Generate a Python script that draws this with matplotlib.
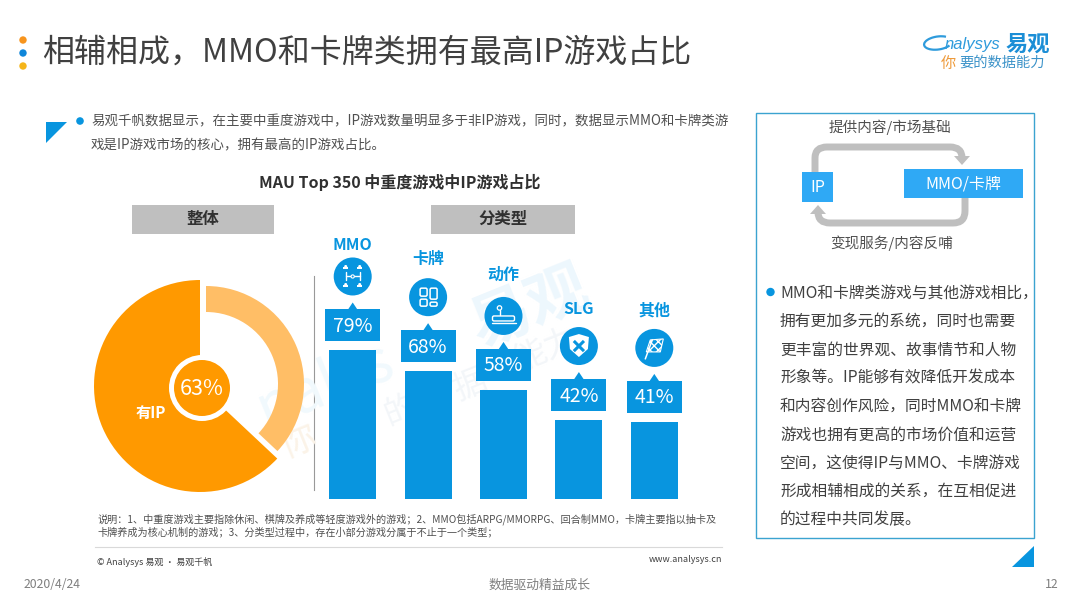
import numpy as np
from matplotlib import pyplot as plt
from matplotlib.patches import Rectangle, Circle, Polygon, PathPatch, FancyBboxPatch, Arc
from matplotlib.path import Path

plt.rcParams['font.family'] = ['Noto Sans CJK SC', 'DejaVu Sans']

# data
overall_values = [63, 37]
overall_label = '有IP'
categories = ['MMO', '卡牌', '动作', 'SLG', '其他']
shares = [79, 68, 58, 42, 41]

title = '相辅相成，MMO和卡牌类拥有最高IP游戏占比'
chart_title = 'MAU Top 350 中重度游戏中IP游戏占比'
intro_lines = ['易观千帆数据显示，在主要中重度游戏中，IP游戏数量明显多于非IP游戏，同时，数据显示MMO和卡牌类游',
               '戏是IP游戏市场的核心，拥有最高的IP游戏占比。']
panel_lines = ['MMO和卡牌类游戏与其他游戏相比，', '拥有更加多元的系统，同时也需要', '更丰富的世界观、故事情节和人物',
               '形象等。IP能够有效降低开发成本', '和内容创作风险，同时MMO和卡牌', '游戏也拥有更高的市场价值和运营',
               '空间，这使得IP与MMO、卡牌游戏', '形成相辅相成的关系，在互相促进', '的过程中共同发展。']
note_lines = ['说明：1、中重度游戏主要指除休闲、棋牌及养成等轻度游戏外的游戏；2、MMO包括ARPG/MMORPG、回合制MMO，卡牌主要指以抽卡及',
              '卡牌养成为核心机制的游戏；3、分类型过程中，存在小部分游戏分属于不止于一个类型；']

BLUE = '#0895DF'
ORANGE = '#FF9900'
LIGHT = '#FFBE66'
GRAY = '#BFBFBF'
DARK = '#404040'
W, H = 1080, 608

fig = plt.figure(figsize=(W / 100, H / 100), dpi=100, facecolor='white')


def px_axes(left, top, width, height, **kw):
    return fig.add_axes([left / W, 1 - (top + height) / H, width / W, height / H], **kw)


# overlay in pixel coordinates for the page furniture
page = px_axes(0, 0, W, H)
page.set_xlim(0, W)
page.set_ylim(H, 0)
page.axis('off')


def text(x, y, s, size=9, color=DARK, ha='left', **kw):
    return page.text(x, y, s, fontsize=size, color=color, ha=ha, va='center', **kw)


# watermark
page.text(530, 308, '易观', fontsize=44, color='#EDF7FD', rotation=22, ha='center', va='center', weight='bold')
page.text(325, 385, 'nalys', fontsize=42, color='#F1F9FD', rotation=22, ha='center', va='center', style='italic')
page.text(298, 442, '你', fontsize=26, color='#FBF3E8', rotation=22, ha='center', va='center')
page.text(400, 410, '的', fontsize=24, color='#F3F6F9', rotation=22, ha='center', va='center')
page.text(470, 385, '据', fontsize=24, color='#F3F6F9', rotation=22, ha='center', va='center')
page.text(545, 350, '能力', fontsize=24, color='#F3F6F9', rotation=22, ha='center', va='center')

# heading
for y, c in zip([40, 53, 66], ['#F7941D', '#0F86D9', '#F5B51A']):
    page.add_patch(Circle((23, y), 3.7, color=c, lw=0))
text(42, 53, title, size=23)

# logo
page.add_patch(Arc((938, 43), 28, 13, angle=-8, theta1=20, theta2=330, color='#2E9BDC', lw=1.6))
text(945, 45, 'nalysys', size=12, color='#2E9BDC', style='italic', family=['Liberation Sans'])
text(1006, 44, '易观', size=16, color='#1B8ED6', weight='bold')
text(941, 63, '你', size=11, color='#EE9A3A')
text(959, 63, '要的数据能力', size=10.3, color='#3C93C9')

# intro
page.add_patch(Polygon([(46, 122), (67, 122), (46, 143)], color=BLUE, lw=0))
page.add_patch(Circle((80, 121), 3.8, color=BLUE, lw=0))
for y, line_text in zip([121, 145], intro_lines):
    text(91, y, line_text, size=9.7, color='#505050')

text(400, 182, chart_title, size=11.5, ha='center', weight='bold', color='#303030')
for x0, x1, s in [(132, 274, '整体'), (431, 575, '分类型')]:
    page.add_patch(Rectangle((x0, 205), x1 - x0, 29, color=GRAY, lw=0))
    text((x0 + x1) / 2, 219, s, size=11.8, ha='center', weight='bold', color='#303030')

page.plot([313.5, 313.5], [276, 490], color='#999999', lw=0.8)

# donut
pie_ax = px_axes(90, 276, 220, 220)
pie_ax.pie([overall_values[0] / 100], normalize=False, radius=106, startangle=90, colors=[ORANGE],
           wedgeprops={'linewidth': 0})
pie_ax.pie([overall_values[1] / 100], normalize=False, radius=98, startangle=90 - 360 * overall_values[1] / 100,
           colors=[LIGHT], center=(6, 2), wedgeprops={'linewidth': 0, 'width': 26})
pie_ax.set_xlim(-110, 110)
pie_ax.set_ylim(-110, 110)
pie_ax.set_aspect('equal')
pie_ax.add_patch(Circle((2, -2), 33, color='white', lw=0, zorder=5))
pie_ax.add_patch(Circle((2, -2), 28, color=ORANGE, lw=0, zorder=6))
pie_ax.text(2, -3, '%d%%' % overall_values[0], fontsize=15.5, color='white', ha='center', va='center',
            weight='light', zorder=7)
pie_ax.text(-49, -27, overall_label, fontsize=11, color='white', weight='bold', ha='center', va='center')

# bars: 1.88 px per percentage point, baseline at y=499
bar_ax = px_axes(315, 232, 377, 267)
bar_ax.patch.set_alpha(0)
bar_ax.bar(range(len(shares)), shares, width=0.623, color=BLUE, linewidth=0)
bar_ax.set_xlim(-0.5, 4.5)
bar_ax.set_ylim(0, 267 / 1.88)
bar_ax.axis('off')

label_gap = [31, 38, 41, 37, 37]
top_layer = px_axes(0, 0, W, H)
top_layer.set_xlim(0, W)
top_layer.set_ylim(H, 0)
top_layer.axis('off')
top_layer.patch.set_alpha(0)


def line(xs, ys, lw=1.0):
    top_layer.plot(xs, ys, color='white', lw=lw, solid_capstyle='round', zorder=6)


def icon_mmo(cx, cy):
    line([cx - 7, cx + 7], [cy, cy])
    line([cx - 7, cx - 7], [cy - 4, cy + 4])
    line([cx + 7, cx + 7], [cy - 4, cy + 4])
    top_layer.add_patch(Circle((cx, cy), 1.6, fc=BLUE, ec='white', lw=0.8, zorder=7))
    for dx in (-7, 7):
        for dy in (-9, 9):
            top_layer.add_patch(Circle((cx + dx, cy + dy - 1), 1.5, color='white', lw=0, zorder=7))
            top_layer.add_patch(Rectangle((cx + dx - 2.5, cy + dy), 5, 1.8, color='white', lw=0, zorder=7))


def icon_card(cx, cy):
    for x, y, w, h in [(-8, -9, 7, 8), (2, -9, 7, 11), (-8, 2, 7, 7), (2, 5, 7, 4)]:
        top_layer.add_patch(FancyBboxPatch((cx + x, cy + y), w, h, boxstyle='round,pad=0,rounding_size=1.5',
                                           fc='none', ec='white', lw=1.1, zorder=6))


def icon_action(cx, cy):
    top_layer.add_patch(Circle((cx - 4, cy - 8), 2.2, fc='none', ec='white', lw=0.9, zorder=6))
    line([cx - 4, cx - 4], [cy - 6, cy - 1])
    top_layer.add_patch(FancyBboxPatch((cx - 11, cy), 22, 5, boxstyle='round,pad=0,rounding_size=1.5',
                                       fc='none', ec='white', lw=1.0, zorder=6))
    line([cx - 12, cx + 12], [cy + 7, cy + 7])


def icon_slg(cx, cy):
    top_layer.add_patch(Polygon([(cx - 10, cy - 9), (cx, cy - 12), (cx + 10, cy - 9), (cx + 9, cy + 3),
                                 (cx, cy + 11), (cx - 9, cy + 3)], color='white', lw=0, zorder=6))
    top_layer.plot([cx - 4, cx + 4], [cy - 4, cy + 4], color=BLUE, lw=2.2, zorder=7)
    top_layer.plot([cx - 4, cx + 4], [cy + 4, cy - 4], color=BLUE, lw=2.2, zorder=7)


def icon_flag(cx, cy):
    line([cx - 9, cx - 2], [cy + 11, cy - 8], lw=1.1)
    top_layer.add_patch(Polygon([(cx - 4, cy - 8), (cx + 9, cy - 9), (cx + 6, cy + 4), (cx - 8, cy + 4)],
                                fc='none', ec='white', lw=0.8, zorder=6, hatch='xxxx'))


icons = [icon_mmo, icon_card, icon_action, icon_slg, icon_flag]
fig.canvas.draw()
for i, (name, v) in enumerate(zip(categories, shares)):
    # take the bar top from the bar axes, callouts hang off it
    bx, by = bar_ax.transData.transform((i, v))
    x, y = bx, H - by
    box_top = y - 41
    top_layer.add_patch(Rectangle((x - 27.5, box_top), 55, 32, color=BLUE, lw=0))
    top_layer.add_patch(Polygon([(x - 5, box_top + 0.5), (x + 5, box_top + 0.5), (x, box_top - 7)], color=BLUE, lw=0))
    top_layer.text(x, box_top + 17, '%d%%' % v, fontsize=14, color='white', ha='center', va='center', weight='light')
    cy = box_top - 33
    top_layer.add_patch(Circle((x, cy), 19, color=BLUE, lw=0))
    icons[i](x, cy)
    top_layer.text(x, cy - label_gap[i], name, fontsize=11.5, color=BLUE, ha='center', va='center', weight='bold')

# side panel
page.add_patch(Rectangle((756, 113), 278, 425, fc='none', ec='#3BA3D0', lw=1))
page.add_patch(Polygon([(1012, 567), (1034, 567), (1034, 546)], color=BLUE, lw=0))
text(890, 127, '提供内容/市场基础', size=10.5, ha='center', color='#505050')
text(892, 243, '变现服务/内容反哺', size=10.5, ha='center', color='#505050')

upper = Path([(815, 175), (815, 158), (815, 147), (827, 147), (950, 147), (962, 147), (962, 158)],
             [Path.MOVETO, Path.LINETO, Path.CURVE3, Path.CURVE3, Path.LINETO, Path.CURVE3, Path.CURVE3])
lower = Path([(965, 195), (965, 211), (965, 223), (953, 223), (830, 223), (818, 223), (818, 212)],
             [Path.MOVETO, Path.LINETO, Path.CURVE3, Path.CURVE3, Path.LINETO, Path.CURVE3, Path.CURVE3])
for p in (upper, lower):
    page.add_patch(PathPatch(p, fc='none', ec=GRAY, lw=5))
page.add_patch(Polygon([(954, 156), (970, 156), (962, 165)], color=GRAY, lw=0))
page.add_patch(Polygon([(810, 214), (826, 214), (818, 205)], color=GRAY, lw=0))
page.add_patch(Rectangle((802, 172), 31, 30, color='#2FA9F5', lw=0, zorder=4))
page.add_patch(Rectangle((904, 169), 119, 29, color='#2FA9F5', lw=0, zorder=4))
page.text(817.5, 187, 'IP', fontsize=11.5, color='white', ha='center', va='center', zorder=5)
page.text(963, 184, 'MMO/卡牌', fontsize=11.5, color='white', ha='center', va='center', zorder=5)

page.add_patch(Circle((770.5, 292), 4.2, color=BLUE, lw=0))
for y, s in zip([293, 322, 350, 378, 406, 435, 463, 491, 520], panel_lines):
    text(780, y, s, size=11.3, color='#404040')

# footnotes
for y, s in zip([519, 532], note_lines):
    text(97, y, s, size=7.3, color='#505050')
page.plot([95, 722], [547, 547], color='#D9D9D9', lw=0.8)
text(97, 562, '© Analysys 易观 · 易观千帆', size=6.5, color='#404040')
text(722, 560, 'www.analysys.cn', size=6.5, ha='right', color='#404040')
text(24, 585, '2020/4/24', size=8.8, color='#7F7F7F')
text(540, 585, '数据驱动精益成长', size=9.2, ha='center', color='#7F7F7F')
text(1059, 585, '12', size=8.8, ha='right', color='#7F7F7F')

plt.savefig('out.png', dpi=100)
